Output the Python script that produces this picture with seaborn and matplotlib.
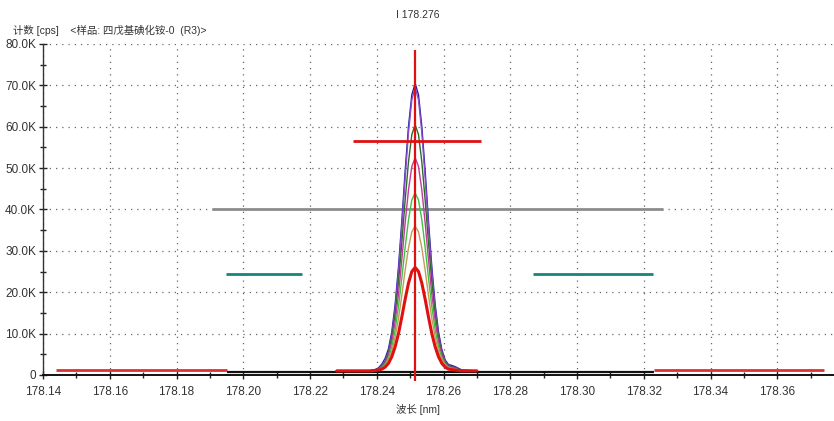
import numpy as np
import pandas as pd
import matplotlib
matplotlib.use("Agg")
import matplotlib.pyplot as plt
import seaborn as sns
from matplotlib.ticker import MultipleLocator, FuncFormatter

# ---------------- data (counts in thousands of cps) ----------------
wavelength = [178.2280, 178.2375, 178.2385, 178.2395, 178.2405, 178.2415, 178.2425,
              178.2435, 178.2445, 178.2455, 178.2465, 178.2475, 178.2485, 178.2495,
              178.2505, 178.2515, 178.2525, 178.2535, 178.2545, 178.2555, 178.2565,
              178.2575, 178.2585, 178.2595, 178.2605, 178.2615, 178.2625, 178.2635,
              178.2645, 178.2655, 178.2700]

s_blue = [1.0, 1.0, 1.1, 1.3, 1.7, 2.6, 4.0, 6.3, 10.4, 17.0, 26.0, 37.1, 49.2, 60.0, 67.7, 70.5,
          67.7, 60.0, 49.2, 37.1, 26.0, 17.0, 10.4, 6.1, 3.6, 2.5, 2.3, 2.0, 1.6, 1.2, 1.0]
s_purple = [1.0, 1.0, 1.1, 1.2, 1.5, 2.3, 3.5, 5.6, 9.6, 16.0, 24.8, 35.6, 47.6, 58.6, 66.5, 69.5,
            66.5, 58.6, 47.6, 35.6, 24.8, 16.0, 9.6, 5.6, 3.3, 2.2, 2.0, 1.8, 1.4, 1.1, 1.0]
s_darkgreen = [1.0, 1.0, 1.1, 1.2, 1.4, 2.0, 3.2, 5.3, 9.0, 14.7, 22.4, 31.9, 42.2, 51.5, 58.1, 60.5,
               58.1, 51.5, 42.2, 31.9, 22.4, 14.7, 9.0, 5.3, 3.2, 2.2, 2.0, 1.7, 1.4, 1.1, 1.0]
s_magenta = [1.0, 1.0, 1.1, 1.1, 1.4, 1.9, 2.9, 4.8, 8.0, 12.9, 19.5, 27.8, 36.7, 44.7, 50.4, 52.5,
             50.4, 44.7, 36.7, 27.8, 19.5, 12.9, 8.0, 4.8, 2.9, 2.0, 1.8, 1.6, 1.3, 1.1, 1.0]
s_green = [1.0, 1.0, 1.0, 1.1, 1.3, 1.7, 2.6, 4.1, 6.8, 10.9, 16.5, 23.4, 30.8, 37.5, 42.3, 44.0,
           42.3, 37.5, 30.8, 23.4, 16.5, 10.9, 6.8, 4.1, 2.6, 1.8, 1.6, 1.5, 1.2, 1.0, 1.0]
s_tan = [1.0, 1.0, 1.0, 1.1, 1.3, 1.6, 2.3, 3.6, 5.7, 9.1, 13.6, 19.2, 25.3, 30.7, 34.6, 36.0,
         34.6, 30.7, 25.3, 19.2, 13.6, 9.1, 5.7, 3.6, 2.3, 1.7, 1.5, 1.4, 1.2, 1.0, 1.0]
s_red = [1.0, 1.0, 1.0, 1.1, 1.2, 1.4, 1.9, 2.8, 4.4, 6.8, 10.0, 14.0, 18.3, 22.2, 25.0, 26.0,
         25.0, 22.2, 18.3, 14.0, 10.0, 6.8, 4.4, 2.8, 1.9, 1.4, 1.3, 1.2, 1.1, 1.0, 1.0]

series_names = ["R1", "R2", "R3", "R4", "R5", "R6", "R7"]
series_values = [s_blue, s_purple, s_darkgreen, s_magenta, s_green, s_tan, s_red]
series_colors = ["#1c1ca8", "#8a4cc8", "#2f6a2a", "#c43a9c", "#3fc23f", "#c49a58", "#e01010"]
series_widths = [1.0, 1.0, 1.0, 1.0, 1.0, 1.0, 2.2]

# background / marker lines: (level, start, end)
bg_left = (1.2, 178.144, 178.195)
bg_mid = (0.7, 178.195, 178.323)
bg_right = (1.2, 178.323, 178.374)
gray_line = (40.0, 178.1907, 178.3259)
teal_left = (24.4, 178.1949, 178.2177)
teal_right = (24.4, 178.2869, 178.3229)
peak_h = (56.5, 178.2329, 178.2713)
peak_v = (178.2515, -1.5, 78.5)

x_ticks = [178.14, 178.16, 178.18, 178.20, 178.22, 178.24, 178.26, 178.28, 178.30,
           178.32, 178.34, 178.36]

title_text = "I 178.276"
ylabel_text = "计数 [cps]    <样品: 四戊基碘化铵-0  (R3)>"
xlabel_text = "波长 [nm]"

# ---------------- plotting ----------------
sns.set_theme(style="white")
plt.rcParams["font.family"] = ["Liberation Sans", "Noto Sans CJK SC", "DejaVu Sans"]

rows = []
for name, vals in zip(series_names, series_values):
    for w, v in zip(wavelength, vals):
        rows.append({"wl": w, "cps": v, "run": name})
df = pd.DataFrame(rows)

fig = plt.figure(figsize=(8.34, 4.21), dpi=100)
ax = fig.add_axes([0.0516, 0.1093, 0.9484, 0.7862])

ax.set_xlim(178.14, 178.377)
ax.set_ylim(0, 80)

# grid
ax.xaxis.set_major_locator(MultipleLocator(0.02))
ax.xaxis.set_minor_locator(MultipleLocator(0.01))
ax.yaxis.set_major_locator(MultipleLocator(10))
ax.yaxis.set_minor_locator(MultipleLocator(5))
ax.grid(True, which="major", color="#666666", linestyle=(0, (1, 4)), linewidth=0.9)
ax.set_axisbelow(True)

# background lines
ax.hlines(bg_left[0], bg_left[1], bg_left[2], color="#e03030", linewidth=2.0, zorder=2)
ax.hlines(bg_right[0], bg_right[1], bg_right[2], color="#e03030", linewidth=2.0, zorder=2)
ax.hlines(bg_mid[0], bg_mid[1], bg_mid[2], color="#111111", linewidth=1.6, zorder=2)
ax.hlines(gray_line[0], gray_line[1], gray_line[2], color="#8c8c8c", linewidth=2.0, zorder=2)
ax.hlines(teal_left[0], teal_left[1], teal_left[2], color="#14857a", linewidth=2.0, zorder=2)
ax.hlines(teal_right[0], teal_right[1], teal_right[2], color="#14857a", linewidth=2.0, zorder=2)

for name, col, lw in zip(series_names, series_colors, series_widths):
    sns.lineplot(data=df[df["run"] == name], x="wl", y="cps", color=col,
                 linewidth=lw, ax=ax, legend=False, zorder=3)

ax.hlines(peak_h[0], peak_h[1], peak_h[2], color="#e01010", linewidth=2.0, zorder=4)
ax.vlines(peak_v[0], peak_v[1], peak_v[2], color="#e01010", linewidth=1.6, zorder=4,
          clip_on=False)

ax.set_xticks(x_ticks)
ax.set_xticklabels([f"{t:.2f}" for t in x_ticks])
ax.yaxis.set_major_formatter(FuncFormatter(lambda v, p: "0" if v == 0 else f"{v:.1f}K"))

ax.tick_params(axis="both", which="major", direction="inout", length=6, width=1,
               color="#222222", labelsize=8.5, labelcolor="#333333", pad=2,
               bottom=True, left=True)
ax.tick_params(axis="both", which="minor", direction="inout", length=5, width=1,
               color="#222222", bottom=True, left=True)
ax.tick_params(axis="x", pad=5)

for side in ["top", "right"]:
    ax.spines[side].set_visible(False)
ax.spines["left"].set_color("#333333")
ax.spines["left"].set_linewidth(1.0)
ax.spines["bottom"].set_color("#111111")
ax.spines["bottom"].set_linewidth(1.4)

ax.set_xlabel("")
ax.set_ylabel("")

fig.text(0.501, 0.965, title_text, ha="center", va="center", fontsize=7.5, color="#333333")
fig.text(0.015, 0.928, ylabel_text, ha="left", va="center", fontsize=7.5, color="#333333")
fig.text(0.501, 0.027, xlabel_text, ha="center", va="center", fontsize=7.5, color="#333333")

fig.savefig("out.png", dpi=100)
